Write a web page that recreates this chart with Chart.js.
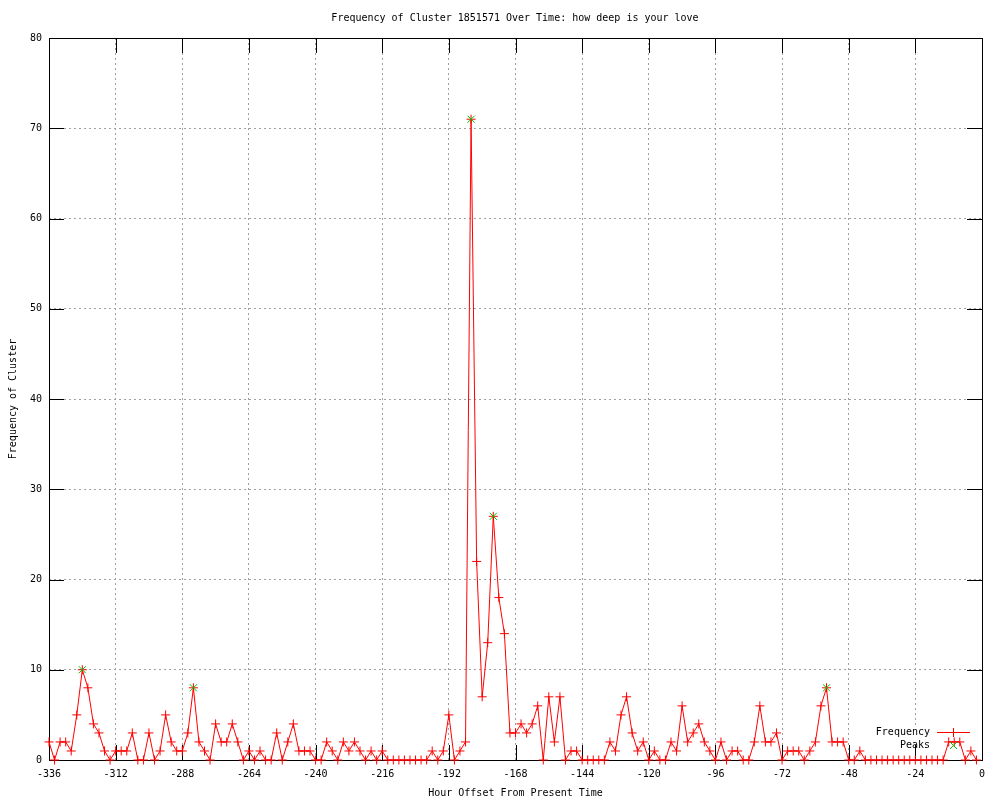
<!DOCTYPE html>
<html lang="en">
<head>
    <meta charset="UTF-8">
    <title>Frequency of Cluster 1851571 Over Time</title>
    <script src="https://cdn.jsdelivr.net/npm/chart.js"></script>
    <style>
        body {
            margin: 0;
            background: #fff;
        }

        #wrap {
            width: 1000px;
            height: 800px;
        }
    </style>
</head>
<body>
    <div id="wrap">
        <canvas id="clusterChart" width="1000" height="800"></canvas>
    </div>

    <script>
        // hour offsets (x) and cluster frequency (y)
        const hours = [
            -336, -334, -332, -330, -328, -326, -324, -322, -320, -318, -316, -314,
            -312, -310, -308, -306, -304, -302, -300, -298, -296, -294, -292, -290,
            -288, -286, -284, -282, -280, -278, -276, -274, -272, -270, -268, -266,
            -264, -262, -260, -258, -256, -254, -252, -250, -248, -246, -244, -242,
            -240, -238, -236, -234, -232, -230, -228, -226, -224, -222, -220, -218,
            -216, -214, -212, -210, -208, -206, -204, -202, -200, -198, -196, -194,
            -192, -190, -188, -186, -184, -182, -180, -178, -176, -174, -172, -170,
            -168, -166, -164, -162, -160, -158, -156, -154, -152, -150, -148, -146,
            -144, -142, -140, -138, -136, -134, -132, -130, -128, -126, -124, -122,
            -120, -118, -116, -114, -112, -110, -108, -106, -104, -102, -100, -98,
            -96, -94, -92, -90, -88, -86, -84, -82, -80, -78, -76, -74,
            -72, -70, -68, -66, -64, -62, -60, -58, -56, -54, -52, -50,
            -48, -46, -44, -42, -40, -38, -36, -34, -32, -30, -28, -26,
            -24, -22, -20, -18, -16, -14, -12, -10, -8, -6, -4, -2
        ];
        const frequency = [
            2, 0, 2, 2, 1, 5, 10, 8, 4, 3, 1, 0,
            1, 1, 1, 3, 0, 0, 3, 0, 1, 5, 2, 1,
            1, 3, 8, 2, 1, 0, 4, 2, 2, 4, 2, 0,
            1, 0, 1, 0, 0, 3, 0, 2, 4, 1, 1, 1,
            0, 0, 2, 1, 0, 2, 1, 2, 1, 0, 1, 0,
            1, 0, 0, 0, 0, 0, 0, 0, 0, 1, 0, 1,
            5, 0, 1, 2, 71, 22, 7, 13, 27, 18, 14, 3,
            3, 4, 3, 4, 6, 0, 7, 2, 7, 0, 1, 1,
            0, 0, 0, 0, 0, 2, 1, 5, 7, 3, 1, 2,
            0, 1, 0, 0, 2, 1, 6, 2, 3, 4, 2, 1,
            0, 2, 0, 1, 1, 0, 0, 2, 6, 2, 2, 3,
            0, 1, 1, 1, 0, 1, 2, 6, 8, 2, 2, 2,
            0, 0, 1, 0, 0, 0, 0, 0, 0, 0, 0, 0,
            0, 0, 0, 0, 0, 0, 2, 2, 2, 0, 1, 0
        ];
        const peakHours = [-324, -284, -184, -176, -56];
        const peakValues = [10, 8, 71, 27, 8];

        const FONT = "'DejaVu Sans Mono', 'Liberation Mono', monospace";
        const RED = '#ff0000';
        const GREEN = '#00c000';
        const TIC = 15;

        // title, black frame, inward tics, and the key (gnuplot look)
        const gnuplotLook = {
            id: 'gnuplotLook',
            beforeDatasetsDraw(chart) {
                const ctx = chart.ctx;
                const a = chart.chartArea;
                ctx.save();
                // key area blanks the grid behind it
                ctx.fillStyle = '#fff';
                ctx.fillRect(868, 725, 108, 27);

                ctx.strokeStyle = '#000';
                ctx.lineWidth = 1;
                ctx.beginPath();
                chart.scales.x.ticks.forEach(function (t) {
                    const px = Math.round(chart.scales.x.getPixelForValue(t.value)) + 0.5;
                    ctx.moveTo(px, a.bottom); ctx.lineTo(px, a.bottom - TIC);
                    ctx.moveTo(px, a.top); ctx.lineTo(px, a.top + TIC);
                });
                chart.scales.y.ticks.forEach(function (t) {
                    const py = Math.round(chart.scales.y.getPixelForValue(t.value)) + 0.5;
                    ctx.moveTo(a.left, py); ctx.lineTo(a.left + TIC, py);
                    ctx.moveTo(a.right, py); ctx.lineTo(a.right - TIC, py);
                });
                ctx.stroke();
                ctx.strokeRect(Math.round(a.left) + 0.5, Math.round(a.top) + 0.5,
                    Math.round(a.right - a.left), Math.round(a.bottom - a.top));
                ctx.restore();
            },
            afterDatasetsDraw(chart) {
                const ctx = chart.ctx;
                ctx.save();
                ctx.font = '10px ' + FONT;
                ctx.fillStyle = '#000';
                ctx.textBaseline = 'middle';

                ctx.textAlign = 'center';
                ctx.fillText('Frequency of Cluster 1851571 Over Time: how deep is your love', 515, 18);

                ctx.textAlign = 'right';
                ctx.fillText('Frequency', 930, 732);
                ctx.fillText('Peaks', 930, 745);

                // key samples
                ctx.strokeStyle = RED;
                ctx.lineWidth = 1;
                ctx.beginPath();
                ctx.moveTo(937, 732.5); ctx.lineTo(970, 732.5);
                ctx.moveTo(953.5, 728); ctx.lineTo(953.5, 737);
                ctx.stroke();
                ctx.strokeStyle = GREEN;
                ctx.beginPath();
                ctx.moveTo(950, 742); ctx.lineTo(957, 749);
                ctx.moveTo(957, 742); ctx.lineTo(950, 749);
                ctx.stroke();
                ctx.restore();
            }
        };

        const ctx = document.getElementById('clusterChart').getContext('2d');
        const chart = new Chart(ctx, {
            type: 'line',
            data: {
                datasets: [{
                    label: 'Peaks',
                    data: peakHours.map((h, i) => ({ x: h, y: peakValues[i] })),
                    showLine: false,
                    pointStyle: 'crossRot',
                    pointRadius: 5,
                    pointBorderWidth: 1,
                    pointBorderColor: GREEN,
                    borderColor: GREEN,
                    backgroundColor: GREEN
                }, {
                    label: 'Frequency',
                    data: hours.map((h, i) => ({ x: h, y: frequency[i] })),
                    borderColor: RED,
                    borderWidth: 1,
                    tension: 0,
                    fill: false,
                    pointStyle: 'cross',
                    pointRadius: 4.5,
                    pointBorderWidth: 1,
                    pointBorderColor: RED,
                    backgroundColor: RED
                }]
            },
            options: {
                responsive: false,
                animation: false,
                clip: false,
                layout: {
                    padding: { left: 0, right: 18, top: 38, bottom: 0 }
                },
                plugins: {
                    legend: { display: false },
                    tooltip: { enabled: false }
                },
                scales: {
                    x: {
                        type: 'linear',
                        min: -336,
                        max: 0,
                        afterFit: function (s) { s.height = 40; },
                        ticks: {
                            stepSize: 24,
                            padding: 8,
                            maxRotation: 0,
                            autoSkip: false,
                            color: '#000',
                            font: { family: FONT, size: 10 }
                        },
                        grid: {
                            color: '#a0a0a0',
                            lineWidth: 1,
                            drawTicks: false
                        },
                        border: { display: false, dash: [2, 3] },
                        title: {
                            display: true,
                            text: 'Hour Offset From Present Time',
                            color: '#000',
                            font: { family: FONT, size: 10 },
                            padding: { top: 0, bottom: 1 }
                        }
                    },
                    y: {
                        min: 0,
                        max: 80,
                        afterFit: function (s) { s.width = 49; },
                        ticks: {
                            stepSize: 10,
                            padding: 7,
                            color: '#000',
                            font: { family: FONT, size: 10 }
                        },
                        grid: {
                            color: '#a0a0a0',
                            lineWidth: 1,
                            drawTicks: false
                        },
                        border: { display: false, dash: [2, 3] },
                        title: {
                            display: true,
                            text: 'Frequency of Cluster',
                            color: '#000',
                            font: { family: FONT, size: 10 },
                            padding: { top: 7, bottom: 0 }
                        }
                    }
                }
            },
            plugins: [gnuplotLook]
        });
    </script>
</body>
</html>
